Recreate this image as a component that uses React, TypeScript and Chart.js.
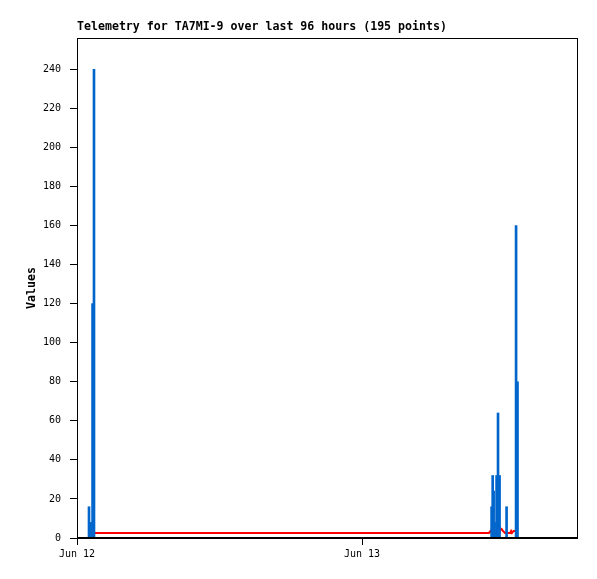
import React, { useEffect, useRef } from 'react';
import { Chart, registerables } from 'chart.js';

Chart.register(...registerables);

// ---- data (hours since Jun 12 00:00) ----
const chartTitle = 'Telemetry for TA7MI-9 over last 96 hours (195 points)';
const yAxisTitle = 'Values';

const blueHours = [1.01, 1.14, 1.31, 1.43, 34.91, 35.0, 35.08, 35.16, 35.33, 35.45, 35.58, 36.17, 36.97, 37.09];
const blueValues = [16, 8, 120, 240, 16, 32, 24, 8, 32, 64, 32, 16, 160, 80];

const redHours = [1.18, 34.69, 34.82, 34.95, 35.54, 35.66, 35.75, 35.87, 36.04, 36.46, 36.55, 36.63, 36.76, 36.89];
const redValues = [2.6, 2.6, 3.6, 2.6, 2.6, 4.2, 4.6, 3.6, 2.6, 2.6, 3.6, 2.6, 3.6, 3.6];

const yTickValues = [0, 20, 40, 60, 80, 100, 120, 140, 160, 180, 200, 220, 240];
const yMax = 256;
const xMaxHours = 42.1;
const xTickHours = [0, 24];
const xTickLabels = ['Jun 12', 'Jun 13'];

const BLUE = '#0066cc';
const RED = '#ff0000';
const MONO = '"DejaVu Sans Mono", "Liberation Mono", monospace';

export default function App() {
  const ref = useRef<HTMLCanvasElement>(null);

  useEffect(() => {
    document.body.style.margin = '0';
    const canvas = ref.current!;

    const decor = {
      id: 'decor',
      afterDatasetsDraw(chart: any) {
        const { ctx, chartArea: a } = chart;
        ctx.save();
        ctx.strokeStyle = '#000';
        ctx.lineWidth = 1;
        ctx.strokeRect(a.left + 0.5, a.top + 0.5, a.right - a.left, a.bottom - a.top - 1);
        ctx.fillStyle = '#000';
        ctx.fillRect(a.left, a.bottom - 1, a.right - a.left + 1, 2);
        ctx.restore();
      },
      afterDraw(chart: any) {
        const { ctx, chartArea: a } = chart;
        ctx.save();
        ctx.fillStyle = '#000';
        ctx.font = `bold 11.6px ${MONO}`;
        ctx.textAlign = 'left';
        ctx.textBaseline = 'alphabetic';
        ctx.fillText(chartTitle, a.left, 30);
        ctx.translate(32, (a.top + a.bottom) / 2);
        ctx.rotate(-Math.PI / 2);
        ctx.textAlign = 'center';
        ctx.textBaseline = 'middle';
        ctx.fillText(yAxisTitle, 0, 0);
        ctx.restore();
      },
    };

    const tickFont = { family: MONO, size: 10 };

    const chart = new Chart(canvas, {
      type: 'bar',
      data: {
        datasets: [
          {
            type: 'bar',
            label: 'blue',
            data: blueHours.map((h, i) => ({ x: h, y: blueValues[i] })),
            backgroundColor: BLUE,
            borderWidth: 0,
            barThickness: 2,
            order: 0,
          } as any,
          {
            type: 'line',
            label: 'red',
            data: redHours.map((h, i) => ({ x: h, y: redValues[i] })),
            borderColor: RED,
            borderWidth: 2,
            pointRadius: 0,
            tension: 0,
            fill: false,
            order: 1,
          } as any,
        ],
      },
      options: {
        responsive: false,
        animation: false,
        devicePixelRatio: 1,
        layout: { padding: { left: 0, top: 38, right: 20, bottom: 0 } },
        plugins: {
          legend: { display: false },
          tooltip: { enabled: false },
          title: { display: false },
        },
        scales: {
          x: {
            type: 'linear',
            min: 0,
            max: xMaxHours,
            offset: false,
            afterBuildTicks: (s: any) => {
              s.ticks = xTickHours.map((v) => ({ value: v }));
            },
            afterFit: (s: any) => {
              s.height = 41;
            },
            ticks: {
              autoSkip: false,
              maxRotation: 0,
              color: '#000',
              font: tickFont,
              padding: 3,
              callback: (v: any) => {
                const i = xTickHours.indexOf(Number(v));
                return i >= 0 ? xTickLabels[i] : '';
              },
            },
            grid: { drawOnChartArea: false, drawTicks: true, tickLength: 7, color: '#000', offset: false },
            border: { display: false },
          },
          y: {
            type: 'linear',
            min: 0,
            max: yMax,
            afterBuildTicks: (s: any) => {
              s.ticks = yTickValues.map((v) => ({ value: v }));
            },
            afterFit: (s: any) => {
              s.width = 77;
            },
            ticks: {
              color: '#000',
              font: tickFont,
              padding: 9,
              callback: (v: any) => String(v),
            },
            grid: { drawOnChartArea: false, drawTicks: true, tickLength: 7, color: '#000' },
            border: { display: false },
          },
        },
      } as any,
      plugins: [decor],
    });

    return () => chart.destroy();
  }, []);

  return <canvas ref={ref} width={597} height={579} style={{ display: 'block' }} />;
}
